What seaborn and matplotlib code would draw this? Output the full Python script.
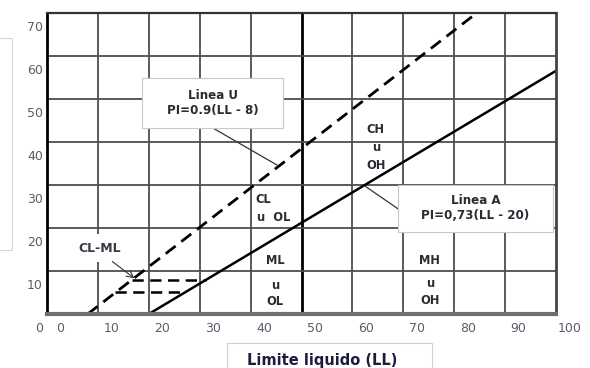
"""Carta de plasticidad (Casagrande) redrawn with seaborn."""

import matplotlib

matplotlib.use("Agg")
import matplotlib.pyplot as plt
import matplotlib.transforms as mtransforms
import seaborn as sns
from matplotlib.patches import Rectangle

# Line A and line U (LL, PI)
A_LL = [20, 100]
A_PI = [0, 56.5]
U_LL = [8, 84.5]
U_PI = [0, 70]

# CL-ML band: dashed horizontals running from the U line to the A line
BAND_PI = [8, 5]
BAND_LL_START = [16.7, 13.4]
BAND_LL_END = [31.3, 27.0]

X_TICKS = list(range(0, 101, 10))
Y_TICKS = list(range(0, 71, 10))

GRID_COLOR = "#4d4d4d"
TEXT_COLOR = "#2b2b33"
TICK_COLOR = "#5c5c6a"
FONT = "DejaVu Sans"


def draw_grid(ax):
    for x in X_TICKS[1:-1]:
        if x == 50:
            ax.axvline(x, color="black", lw=2.0, zorder=1)
        else:
            ax.axvline(x, color=GRID_COLOR, lw=1.3, zorder=1)
    for y in Y_TICKS[1:-1]:
        ax.axhline(y, color=GRID_COLOR, lw=1.3, zorder=1)


def label(ax, x, y, s, size=8.3):
    ax.text(x, y, s, ha="center", va="center", fontsize=size, fontweight="bold",
            color=TEXT_COLOR, zorder=5)


def boxed(ax, x0, y0, x1, y1, lines):
    ax.add_patch(Rectangle((x0, y0), x1 - x0, y1 - y0, facecolor="white",
                           edgecolor="#c8c8c8", lw=0.8, zorder=4))
    ax.text((x0 + x1) / 2, (y0 + y1) / 2, lines, ha="center", va="center",
            fontsize=8.6, fontweight="bold", color=TEXT_COLOR, zorder=5,
            linespacing=1.2)


def main():
    sns.set_theme(style="white")
    plt.rcParams["font.family"] = [FONT]

    fig = plt.figure(figsize=(5.9, 3.68), dpi=100)
    ax = fig.add_axes([47 / 590, 1 - 314 / 368, 509 / 590, 301.3 / 368])
    ax.set_xlim(0, 100)
    ax.set_ylim(0, 70)

    draw_grid(ax)

    sns.lineplot(x=A_LL, y=A_PI, ax=ax, color="black", lw=1.8, zorder=3)
    sns.lineplot(x=U_LL, y=U_PI, ax=ax, color="black", lw=2.0,
                 linestyle=(0, (4.5, 2.6)), zorder=3)
    for pi, l0, l1 in zip(BAND_PI, BAND_LL_START, BAND_LL_END):
        sns.lineplot(x=[l0, l1], y=[pi, pi], ax=ax, color="black", lw=1.8,
                     linestyle=(0, (4.5, 2.6)), zorder=3)

    # boxed line labels with their pointers
    boxed(ax, 18.7, 43.2, 46.4, 54.8, "Linea U\nPI=0.9(LL - 8)")
    ax.plot([32.6, 45.2], [43.2, 34.6], color="#333333", lw=0.9, zorder=3)
    boxed(ax, 69.0, 19.1, 99.4, 30.0, "Linea A\nPI=0,73(LL - 20)")
    ax.plot([62.5, 69.0], [29.7, 24.4], color="#333333", lw=0.9, zorder=3)

    ax.text(10.4, 15.3, "CL-ML", ha="center", va="center", fontsize=9,
            fontweight="bold", color="#3a3a44", zorder=5,
            bbox=dict(boxstyle="square,pad=0.6", fc="white", ec="none"))
    ax.annotate("", xy=(17.6, 7.9), xytext=(12.4, 12.6),
                arrowprops=dict(arrowstyle="->", lw=0.8, color="#333333"), zorder=5)

    # soil groups
    label(ax, 64.6, 42.8, "CH")
    label(ax, 64.6, 38.6, "u")
    label(ax, 64.6, 34.4, "OH")
    label(ax, 42.4, 26.7, "CL")
    label(ax, 44.6, 22.5, "u  OL")
    label(ax, 44.8, 12.5, "ML")
    label(ax, 44.8, 6.7, "u")
    label(ax, 44.8, 2.8, "OL")
    label(ax, 75.2, 12.5, "MH")
    label(ax, 75.2, 7.2, "u")
    label(ax, 75.2, 3.2, "OH")

    # ticks: labels sit shifted off their grid lines, as in the original
    ax.set_xticks(X_TICKS)
    ax.set_yticks(Y_TICKS)
    ax.tick_params(length=0, labelsize=9, labelcolor=TICK_COLOR, pad=6)
    ax.tick_params(axis="y", pad=3)
    shift_x = mtransforms.ScaledTranslation(0.135, 0, fig.dpi_scale_trans)
    shift_y = mtransforms.ScaledTranslation(0, -0.13, fig.dpi_scale_trans)
    for t in ax.get_xticklabels():
        t.set_transform(t.get_transform() + shift_x)
    for t in ax.get_yticklabels():
        t.set_transform(t.get_transform() + shift_y)

    for side, color, lw in [("left", "black", 2.0), ("top", "#333333", 1.6),
                            ("right", "#444444", 2.0), ("bottom", "#6e6e6e", 3.0)]:
        ax.spines[side].set_visible(True)
        ax.spines[side].set_color(color)
        ax.spines[side].set_linewidth(lw)
        ax.spines[side].set_zorder(6)

    # x label in its own box, y label box cut off at the left edge
    fig.patches.append(Rectangle((227 / 590, -0.02), 205 / 590, 25 / 368 + 0.02,
                                 transform=fig.transFigure, fill=False,
                                 ec="#cfcfcf", lw=0.8))
    fig.text(322 / 590, 1 - 360 / 368, "Limite liquido (LL)", ha="center", va="center",
             fontsize=10.5, fontweight="bold", color="#1c1c3c")
    fig.patches.append(Rectangle((-0.02, 1 - 250 / 368), 12 / 590 + 0.02, 212 / 368,
                                 transform=fig.transFigure, fill=False,
                                 ec="#d6d6d6", lw=0.8))

    fig.savefig("out.png", dpi=100)
    plt.close(fig)


if __name__ == "__main__":
    main()
